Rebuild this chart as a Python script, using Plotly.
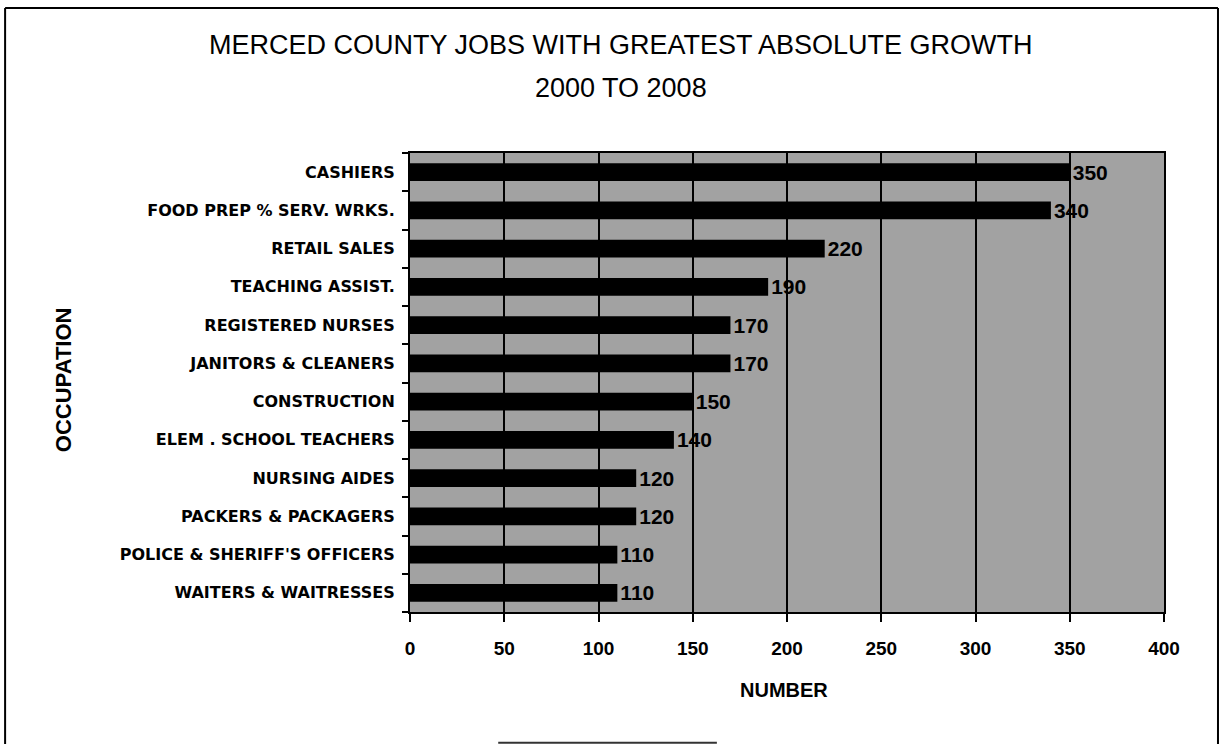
import plotly.graph_objects as go

occupations = [
    "CASHIERS",
    "FOOD PREP % SERV. WRKS.",
    "RETAIL SALES",
    "TEACHING ASSIST.",
    "REGISTERED NURSES",
    "JANITORS & CLEANERS",
    "CONSTRUCTION",
    "ELEM . SCHOOL TEACHERS",
    "NURSING AIDES",
    "PACKERS & PACKAGERS",
    "POLICE & SHERIFF'S OFFICERS",
    "WAITERS & WAITRESSES",
]
growth = [350, 340, 220, 190, 170, 170, 150, 140, 120, 120, 110, 110]
x_ticks = [0, 50, 100, 150, 200, 250, 300, 350, 400]

title_line1 = "MERCED COUNTY JOBS WITH GREATEST ABSOLUTE GROWTH"
title_line2 = "2000 TO 2008"
x_title = "NUMBER"
y_title = "OCCUPATION"

fig = go.Figure()
fig.add_trace(go.Bar(
    x=growth,
    y=occupations,
    orientation="h",
    marker=dict(color="black", line=dict(width=0)),
    text=[str(v) for v in growth],
    textposition="outside",
    constraintext="none",
    cliponaxis=False,
    textfont=dict(family="Liberation Sans", size=21, color="black", weight="bold"),
))

annot_font = dict(family="Liberation Sans", color="black")
fig.update_layout(
    width=1223, height=744,
    paper_bgcolor="white",
    plot_bgcolor="#a2a2a2",
    margin=dict(l=410, r=59, t=153, b=132),
    bargap=0.54,
    showlegend=False,
    xaxis=dict(
        range=[0, 400],
        tickvals=x_ticks,
        ticktext=[str(t) for t in x_ticks],
        tickfont=dict(family="Liberation Sans", size=19, color="black", weight="bold"),
        showgrid=True, gridcolor="black", gridwidth=2,
        showline=True, linecolor="black", linewidth=2, mirror=True,
        ticks="outside", ticklen=8, tickcolor="black", tickwidth=1.5,
        ticklabelstandoff=10,
        zeroline=False,
    ),
    yaxis=dict(
        categoryorder="array",
        categoryarray=occupations[::-1],
        tickfont=dict(family="DejaVu Sans", size=16, color="black", weight="bold"),
        showline=True, linecolor="black", linewidth=2, mirror=True,
        ticks="outside", ticklen=6, tickcolor="black", tickwidth=1.5, tickson="boundaries",
        showgrid=False,
        ticklabelstandoff=10,
    ),
    annotations=[
        dict(text=title_line1, xref="paper", yref="paper", x=0.28, y=1.235,
             xanchor="center", yanchor="middle", showarrow=False,
             font=dict(size=27, **annot_font)),
        dict(text=title_line2, xref="paper", yref="paper", x=0.28, y=1.1416,
             xanchor="center", yanchor="middle", showarrow=False,
             font=dict(size=27, **annot_font)),
        dict(text=y_title, xref="paper", yref="paper", x=-0.460, y=0.5054,
             xanchor="center", yanchor="middle", showarrow=False, textangle=-90,
             font=dict(size=22, weight="bold", **annot_font)),
        dict(text=x_title, xref="paper", yref="paper", x=0.496, y=-0.170,
             xanchor="center", yanchor="middle", showarrow=False,
             font=dict(size=20, weight="bold", **annot_font)),
    ],
    shapes=[
        dict(type="line", xref="paper", yref="paper", x0=-0.537, x1=1.0716, y0=1.316, y1=1.316,
             line=dict(color="black", width=2)),
        dict(type="line", xref="paper", yref="paper", x0=-0.537, x1=-0.537, y0=1.316, y1=-0.32,
             line=dict(color="black", width=2)),
        dict(type="line", xref="paper", yref="paper", x0=1.0716, x1=1.0716, y0=1.316, y1=-0.32,
             line=dict(color="black", width=2)),
        dict(type="line", xref="paper", yref="paper", x0=0.117, x1=0.407, y0=-0.285, y1=-0.285,
             line=dict(color="#333333", width=2)),
    ],
)

fig.write_html("out.html", config={"displayModeBar": False},
               post_script="document.body.style.margin='0px';")
